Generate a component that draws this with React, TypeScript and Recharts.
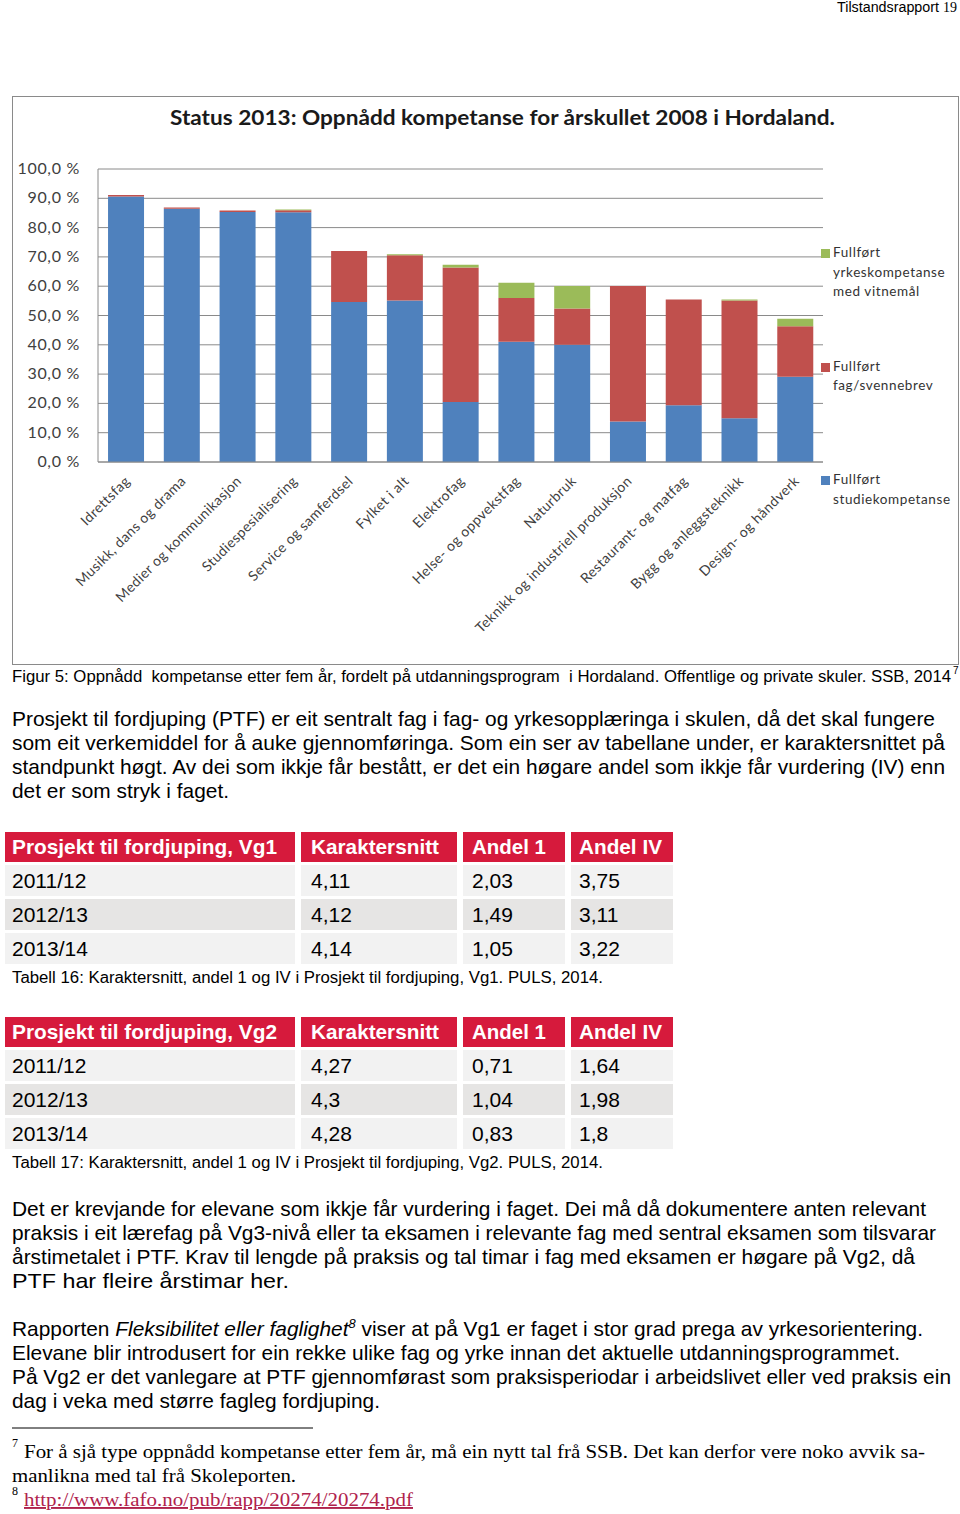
import { BarChart, Bar, XAxis, YAxis, CartesianGrid, Legend } from 'recharts'

const categories = [
  'Idrettsfag',
  'Musikk, dans og drama',
  'Medier og kommunikasjon',
  'Studiespesialisering',
  'Service og samferdsel',
  'Fylket i alt',
  'Elektrofag',
  'Helse- og oppvekstfag',
  'Naturbruk',
  'Teknikk og industriell produksjon',
  'Restaurant- og matfag',
  'Bygg og anleggsteknikk',
  'Design- og håndverk',
]
const studiekompetanse = [90.6, 86.4, 85.3, 85.2, 54.6, 55.1, 20.5, 41.0, 40.0, 13.8, 19.4, 14.9, 29.1]
const fagSvennebrev = [0.5, 0.5, 0.5, 0.7, 17.4, 15.5, 45.9, 15.0, 12.4, 46.3, 36.1, 40.2, 17.2]
const yrkeskompetanse = [0, 0, 0, 0.3, 0, 0.3, 0.9, 5.2, 7.7, 0, 0, 0.4, 2.6]
const yTicks = [0, 10, 20, 30, 40, 50, 60, 70, 80, 90, 100]

const BLUE = '#4F81BD'
const RED = '#C0504D'
const GREEN = '#9BBB59'
const CHART_FONT = 'Lato, "Open Sans", sans-serif'
const SANS = '"Liberation Sans", Arial, sans-serif'
const SERIF = '"Liberation Serif", "Times New Roman", serif'

const data = categories.map((name, i) => ({
  name,
  studie: studiekompetanse[i],
  fag: fagSvennebrev[i],
  yrke: yrkeskompetanse[i],
}))

const legendItems = [
  { key: 'yrke', lines: ['Fullført', 'yrkeskompetanse', 'med vitnemål'] },
  { key: 'fag', lines: ['Fullført', 'fag/svennebrev'] },
  { key: 'studie', lines: ['Fullført', 'studiekompetanse'] },
]

const tableVg1 = [
  ['2011/12', '4,11', '2,03', '3,75'],
  ['2012/13', '4,12', '1,49', '3,11'],
  ['2013/14', '4,14', '1,05', '3,22'],
]
const tableVg2 = [
  ['2011/12', '4,27', '0,71', '1,64'],
  ['2012/13', '4,3', '1,04', '1,98'],
  ['2013/14', '4,28', '0,83', '1,8'],
]

// [text, width]
const para1: [string, number][] = [
  ['Prosjekt til fordjuping (PTF) er eit sentralt fag i fag- og yrkesopplæringa i skulen, då det skal fungere', 923],
  ['som eit verkemiddel for å auke gjennomføringa. Som ein ser av tabellane under, er karaktersnittet på', 933],
  ['standpunkt høgt. Av dei som ikkje får bestått, er det ein høgare andel som ikkje får vurdering (IV) enn', 933],
  ['det er som stryk i faget.', 217],
]
const para2: [string, number][] = [
  ['Det er krevjande for elevane som ikkje får vurdering i faget. Dei må då dokumentere anten relevant', 914],
  ['praksis i eit lærefag på Vg3-nivå eller ta eksamen i relevante fag med sentral eksamen som tilsvarar', 924],
  ['årstimetalet i PTF. Krav til lengde på praksis og tal timar i fag med eksamen er høgare på Vg2, då', 903],
  ['PTF har fleire årstimar her.', 277],
]
const para3: [string, number][] = [
  ['Elevane blir introdusert for ein rekke ulike fag og yrke innan det aktuelle utdanningsprogrammet.', 888],
  ['På Vg2 er det vanlegare at PTF gjennomførast som praksisperiodar i arbeidslivet eller ved praksis ein', 939],
  ['dag i veka med større fagleg fordjuping.', 368],
]

const fmtPct = (v: number) => v.toFixed(1).replace('.', ',') + ' %'

const YTick = ({ x, y, payload }: any) => (
  <text x={x} y={y} dy={5} textAnchor="end" fontSize={16} letterSpacing={0.7} fill="#404040" fontFamily={CHART_FONT}>
    {fmtPct(payload.value)}
  </text>
)

const XTick = ({ x, y, payload }: any) => {
  const ax = x + 5
  const ay = y + 20
  return (
    <text
      x={ax}
      y={ay}
      transform={`rotate(-45 ${ax} ${ay})`}
      textAnchor="end"
      fontSize={14}
      letterSpacing={0.4}
      fill="#404040"
      fontFamily={CHART_FONT}
    >
      {payload.value}
    </text>
  )
}

const renderLegend = (props: any) => {
  const colors: Record<string, string> = {}
  ;(props.payload || []).forEach((p: any) => {
    colors[p.dataKey] = p.color
  })
  return (
    <div style={{ position: 'relative', width: 135, height: 270, fontFamily: CHART_FONT }}>
      {legendItems.map((item, i) => (
        <div key={item.key} style={{ position: 'absolute', left: 0, top: i * 113.5 }}>
          <div style={{ position: 'absolute', left: 0, top: 6, width: 9, height: 9, background: colors[item.key] }} />
          <div style={{ marginLeft: 12, fontSize: 13.5, lineHeight: '19.5px', letterSpacing: 0.6, color: '#333', whiteSpace: 'nowrap' }}>
            {item.lines.map((l) => (
              <div key={l}>{l}</div>
            ))}
          </div>
        </div>
      ))}
    </div>
  )
}

const T = ({ x, y, size, len, bold, family = SANS, fill = '#000', children, italic }: any) => (
  <text
    x={x}
    y={y}
    fontSize={size}
    fontFamily={family}
    fontWeight={bold ? 'bold' : 'normal'}
    fontStyle={italic ? 'italic' : 'normal'}
    fill={fill}
    textLength={len}
    lengthAdjust={len ? 'spacingAndGlyphs' : undefined}
    style={{ whiteSpace: 'pre' }}
  >
    {children}
  </text>
)

const colX = [5, 301, 463, 571]
const colW = [290, 156, 102, 102]
const textX = [12, 311, 472, 579]
const headerW = [265, 128, 74, 83]

const Table = ({ top, title, rows }: { top: number; title: string; rows: string[][] }) => {
  const header = [title, 'Karaktersnitt', 'Andel 1', 'Andel IV']
  return (
    <g>
      {header.map((h, c) => (
        <g key={h}>
          <rect x={colX[c]} y={top} width={colW[c]} height={30} fill="#D61A3C" />
          <T x={textX[c]} y={top + 22} size={21} len={headerW[c]} bold fill="#fff">{h}</T>
        </g>
      ))}
      {rows.map((row, r) => (
        <g key={r}>
          {row.map((cell, c) => (
            <g key={c}>
              <rect x={colX[c]} y={top + 33 + r * 34} width={colW[c]} height={31} fill={r === 1 ? '#E6E5E4' : '#F2F2F2'} />
              <T x={textX[c]} y={top + 56 + r * 34} size={21}>{cell}</T>
            </g>
          ))}
        </g>
      ))}
    </g>
  )
}

export default function App() {
  return (
    <div style={{ position: 'absolute', left: 0, top: 0, width: 960, height: 1514, background: '#fff' }}>
      <div
        style={{
          position: 'absolute',
          left: 12,
          top: 96,
          width: 945,
          height: 567,
          border: '1px solid #8a8a8a',
        }}
      >
        <BarChart
          width={945}
          height={567}
          data={data}
          barCategoryGap="18%"
          margin={{ top: 72, right: 135, left: 15, bottom: 12 }}
        >
          <CartesianGrid vertical={false} stroke="#8a8a8a" strokeWidth={1} />
          <XAxis
            dataKey="name"
            interval={0}
            height={190}
            tickLine={false}
            tickSize={0}
            tickMargin={0}
            tick={<XTick />}
            axisLine={{ stroke: '#8a8a8a' }}
          />
          <YAxis
            width={70}
            domain={[0, 100]}
            ticks={yTicks}
            tickLine={false}
            tickSize={0}
            tickMargin={18}
            tick={<YTick />}
            axisLine={{ stroke: '#8a8a8a' }}
          />
          <Legend
            layout="vertical"
            align="center"
            verticalAlign="middle"
            wrapperStyle={{ left: 808, top: 146, width: 135 }}
            content={renderLegend}
          />
          <Bar dataKey="studie" stackId="a" fill={BLUE} isAnimationActive={false} />
          <Bar dataKey="fag" stackId="a" fill={RED} isAnimationActive={false} />
          <Bar dataKey="yrke" stackId="a" fill={GREEN} isAnimationActive={false} />
        </BarChart>
      </div>

      <svg
        width={960}
        height={1514}
        style={{ position: 'absolute', left: 0, top: 0, pointerEvents: 'none' }}
      >
        <T x={837} y={12} size={14} len={102}>Tilstandsrapport</T>
        <T x={943} y={12} size={14} family={SERIF}>19</T>

        <T x={170} y={125} size={20} len={665} bold family={CHART_FONT} fill="#1a1a1a">
          Status 2013: Oppnådd kompetanse for årskullet 2008 i Hordaland.
        </T>

        <T x={12} y={682} size={16} len={939}>
          Figur 5: Oppnådd  kompetanse etter fem år, fordelt på utdanningsprogram  i Hordaland. Offentlige og private skuler. SSB, 2014
        </T>
        <T x={953} y={674} size={10}>7</T>

        {para1.map(([s, w], i) => (
          <T key={i} x={12} y={726 + i * 24} size={21} len={w}>{s}</T>
        ))}

        <Table top={832} title="Prosjekt til fordjuping, Vg1" rows={tableVg1} />
        <T x={12} y={983} size={16} len={591}>
          Tabell 16: Karaktersnitt, andel 1 og IV i Prosjekt til fordjuping, Vg1. PULS, 2014.
        </T>

        <Table top={1017} title="Prosjekt til fordjuping, Vg2" rows={tableVg2} />
        <T x={12} y={1168} size={16} len={591}>
          Tabell 17: Karaktersnitt, andel 1 og IV i Prosjekt til fordjuping, Vg2. PULS, 2014.
        </T>

        {para2.map(([s, w], i) => (
          <T key={i} x={12} y={1216 + i * 24} size={21} len={w}>{s}</T>
        ))}

        <text x={12} y={1336} fontSize={21} fontFamily={SANS} textLength={911} lengthAdjust="spacingAndGlyphs" style={{ whiteSpace: 'pre' }}>
          Rapporten <tspan fontStyle="italic">Fleksibilitet eller faglighet</tspan>
          <tspan dy={-8} fontSize={13} fontStyle="italic">8</tspan>
          <tspan dy={8}> viser at på Vg1 er faget i stor grad prega av yrkesorientering.</tspan>
        </text>
        {para3.map(([s, w], i) => (
          <T key={i} x={12} y={1360 + i * 24} size={21} len={w}>{s}</T>
        ))}

        <line x1={12} y1={1428} x2={313} y2={1428} stroke="#000" strokeWidth={1} />
        <T x={12} y={1447} size={12} family={SERIF}>7</T>
        <T x={24} y={1458} size={19} family={SERIF} len={901}>
          For å sjå type oppnådd kompetanse etter fem år, må ein nytt tal frå SSB. Det kan derfor vere noko avvik sa-
        </T>
        <T x={12} y={1482} size={19} family={SERIF} len={284}>
          manlikna med tal frå Skoleporten.
        </T>
        <T x={12} y={1495} size={12} family={SERIF}>8</T>
        <text
          x={24}
          y={1506}
          fontSize={19}
          fontFamily={SERIF}
          fill="#B0224C"
          textLength={389}
          lengthAdjust="spacingAndGlyphs"
          textDecoration="underline"
        >
          http://www.fafo.no/pub/rapp/20274/20274.pdf
        </text>
      </svg>
    </div>
  )
}
